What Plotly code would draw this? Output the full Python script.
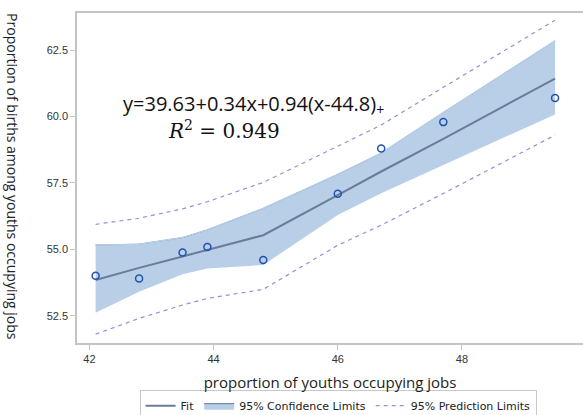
import plotly.graph_objects as go

# data
x_obs = [42.1, 42.8, 43.5, 43.9, 44.8, 46.0, 46.7, 47.7, 49.5]
y_obs = [54.0, 53.9, 54.88, 55.09, 54.6, 57.09, 58.8, 59.79, 60.7]

fit = [53.84, 54.30, 54.73, 54.97, 55.53, 57.04, 57.93, 59.16, 61.43]
cl_upper = [55.16, 55.19, 55.44, 55.73, 56.54, 57.82, 58.62, 60.15, 62.85]
cl_lower = [52.61, 53.40, 54.06, 54.28, 54.41, 56.29, 57.11, 58.18, 60.08]
pl_upper = [55.94, 56.17, 56.52, 56.79, 57.52, 58.87, 59.68, 61.10, 63.63]
pl_lower = [51.80, 52.40, 52.90, 53.15, 53.49, 55.15, 55.91, 57.10, 59.30]

x_ticks = [42, 44, 46, 48, 50]
y_ticks = [52.5, 55.0, 57.5, 60.0, 62.5]

band_col = "#B9CFE8"
fit_col = "#6B7B9A"
pl_col = "#8E92DA"
pt_col = "#2351B0"
frame_col = "#C4C4C4"

fig = go.Figure()

fig.add_trace(go.Scatter(x=x_obs, y=cl_lower, mode="lines", line=dict(width=0),
                         showlegend=False, hoverinfo="skip"))
fig.add_trace(go.Scatter(x=x_obs, y=cl_upper, mode="lines",
                         line=dict(width=1, color="#5A6E96"),
                         fill="tonexty", fillcolor=band_col,
                         name="95% Confidence Limits", legendrank=2))
# cover the band outline so only the fill shows in the plot
fig.add_trace(go.Scatter(x=x_obs, y=cl_upper, mode="lines", showlegend=False,
                         line=dict(width=1.5, color=band_col), hoverinfo="skip"))
fig.add_trace(go.Scatter(x=x_obs, y=pl_upper, mode="lines", name="95% Prediction Limits",
                         line=dict(color=pl_col, width=1.2, dash="4px,4px"), legendrank=3))
fig.add_trace(go.Scatter(x=x_obs, y=pl_lower, mode="lines", showlegend=False,
                         line=dict(color=pl_col, width=1.2, dash="4px,4px")))
fig.add_trace(go.Scatter(x=x_obs, y=fit, mode="lines", name="Fit",
                         line=dict(color=fit_col, width=2), legendrank=1))
fig.add_trace(go.Scatter(x=x_obs, y=y_obs, mode="markers", showlegend=False,
                         marker=dict(symbol="circle-open", size=7, color=pt_col,
                                     line=dict(width=1.5, color=pt_col))))

fig.update_layout(
    width=583, height=415,
    margin=dict(l=77, r=0, t=13, b=72, autoexpand=False),
    paper_bgcolor="white", plot_bgcolor="white",
    font=dict(family="Liberation Sans, Arial, sans-serif", color="#333333"),
    showlegend=True,
    legend=dict(orientation="h", x=0.516, xanchor="center", y=-0.143, yanchor="top",
                traceorder="normal",
                bordercolor="#C8C8C8", borderwidth=1, bgcolor="white",
                font=dict(size=11, family="DejaVu Sans, sans-serif", color="#222222")),
    xaxis=dict(range=[41.80, 49.95], tickvals=x_ticks, ticktext=[str(v) for v in x_ticks],
               showgrid=False, zeroline=False, showline=True, linecolor=frame_col,
               linewidth=1.5, mirror=True, ticks="outside", ticklen=5,
               tickcolor=frame_col, tickfont=dict(size=11, color="#333333"),
               title=dict(text="proportion of youths occupying jobs",
                          font=dict(size=15, family="Open Sans, sans-serif", color="#222222"),
                          standoff=14)),
    yaxis=dict(range=[51.47, 63.90], tickvals=y_ticks,
               ticktext=[f"{v:.1f}" for v in y_ticks],
               showgrid=False, zeroline=False, showline=True, linecolor=frame_col,
               linewidth=1.5, mirror=False, ticks="outside", ticklen=5,
               tickcolor=frame_col, tickfont=dict(size=11, color="#333333")),
)

fig.add_annotation(text="Proportion of births among youths occupying jobs",
                   xref="paper", yref="paper", x=-0.128, y=0.505, textangle=90,
                   showarrow=False, xanchor="center", yanchor="middle",
                   font=dict(size=14, family="Open Sans, sans-serif", color="#222222"))

fig.add_annotation(text="y=39.63+0.34x+0.94(x-44.8)<sub>+</sub>",
                   xref="paper", yref="paper", x=(121 - 77) / 506, y=(343 - 104) / 330,
                   xanchor="left", yanchor="middle", showarrow=False,
                   font=dict(size=20, family="Open Sans, sans-serif", color="#111111"))
fig.add_annotation(text="<i>R</i><sup>2</sup> = 0.949",
                   xref="paper", yref="paper", x=(166 - 77) / 506, y=(343 - 130) / 330,
                   xanchor="left", yanchor="middle", showarrow=False,
                   font=dict(size=20, family="DejaVu Serif, serif", color="#111111"))

fig.add_annotation(text="50", xref="x", yref="paper", x=50, y=-0.045,
                   xanchor="center", yanchor="top", showarrow=False,
                   font=dict(size=11, color="#333333"))

fig.write_html("out.html")
